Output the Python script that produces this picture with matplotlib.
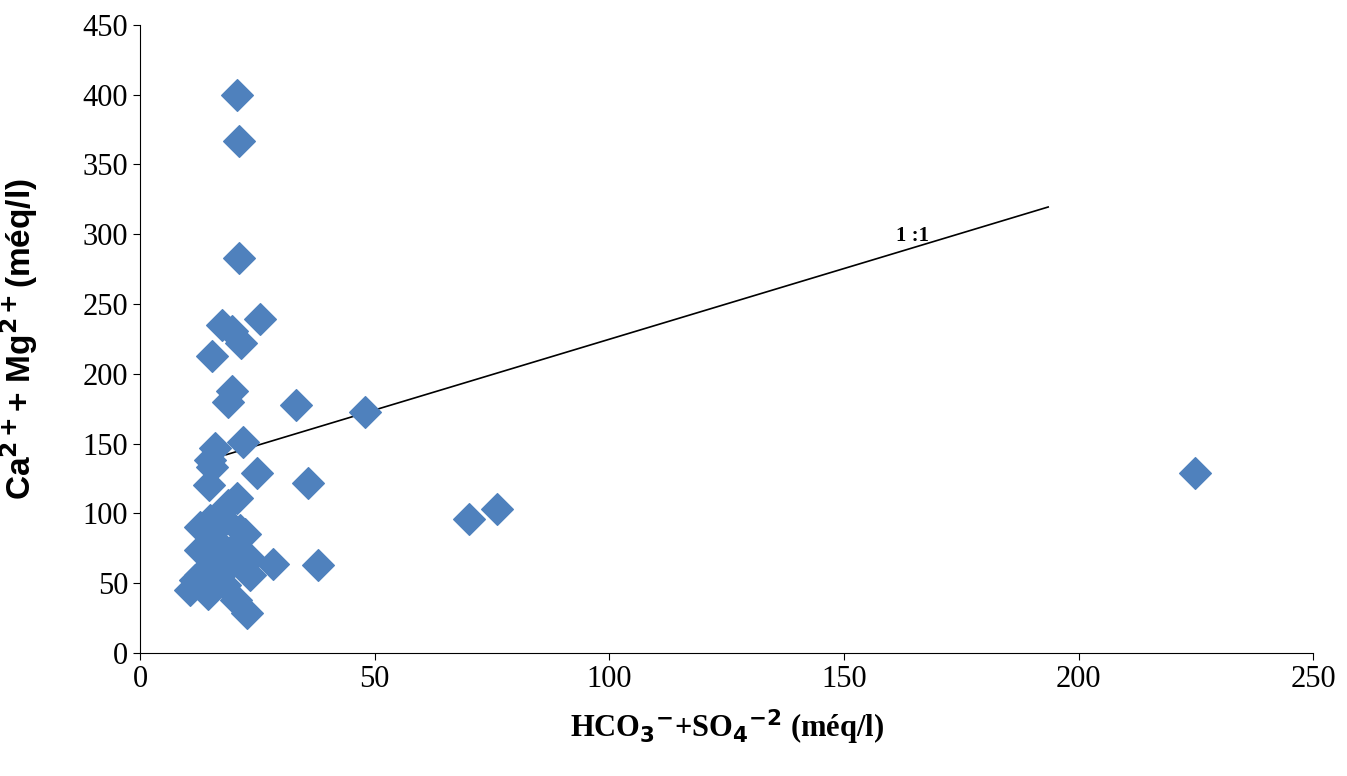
import matplotlib.pyplot as plt

# Data (meq/l)
anions = [20.7, 21.1, 21.1, 25.6, 17.5, 19.6, 21.5, 15.3, 19.6, 18.8, 33.2, 48.0,
          22.0, 16.0, 15.0, 15.3, 25.0, 35.8, 14.7, 20.7, 70.0, 76.0, 224.8,
          38.0, 28.3, 22.8, 20.5, 14.5, 10.6, 11.7, 12.8, 12.8, 12.8, 16.0, 18.0,
          22.4, 23.5, 23.4, 19.2, 16.0, 17.0, 20.0, 15.0, 18.8, 21.3, 15.3, 18.0]
cations = [400, 367, 283, 239, 235, 231, 222, 213, 188, 180, 178, 173,
           151, 147, 138, 133, 129, 122, 120, 111, 96, 103, 129,
           63, 64, 29, 38, 42, 45, 52, 56, 74, 90, 81, 95,
           85, 67, 56, 63, 56, 70, 75, 95, 106, 88, 63, 49]
line_x = [18.3, 193.5]
line_y = [142, 319.5]

fig = plt.figure(figsize=(13.47, 7.76), dpi=100)
ax = fig.add_axes([0.104, 0.1585, 0.871, 0.8095])
ax.scatter(anions, cations, marker='D', s=260, color='#4f81bd', zorder=3)
ax.plot(line_x, line_y, color='black', lw=1.2)
ax.text(164.5, 299, '1 :1', fontsize=15, fontweight='bold',
        family='Liberation Serif', ha='center', va='center')

ax.set_xlim(0, 250)
ax.set_ylim(0, 450)
ax.set_xticks(range(0, 251, 50))
ax.set_yticks(range(0, 451, 50))
for s in ['top', 'right']:
    ax.spines[s].set_visible(False)
ax.tick_params(labelsize=22, direction='out', length=5)
for lab in ax.get_xticklabels() + ax.get_yticklabels():
    lab.set_family('Liberation Serif')

ax.set_xlabel(r'HCO$_3$$^{-}$+SO$_4$$^{-2}$ (méq/l)', fontsize=22,
              fontweight='bold', family='Liberation Serif', labelpad=10)
ylab = ax.set_ylabel(r'Ca$^{\mathbf{2+}}$+ Mg$^{\mathbf{2+}}$(méq/l)', fontsize=24,
                     fontweight='bold', family='Liberation Sans',
                     backgroundcolor='white')
ax.yaxis.set_label_coords(-0.085, 0.5)
plt.rcParams['mathtext.default'] = 'bf'

fig.savefig('out.png', dpi=100)
